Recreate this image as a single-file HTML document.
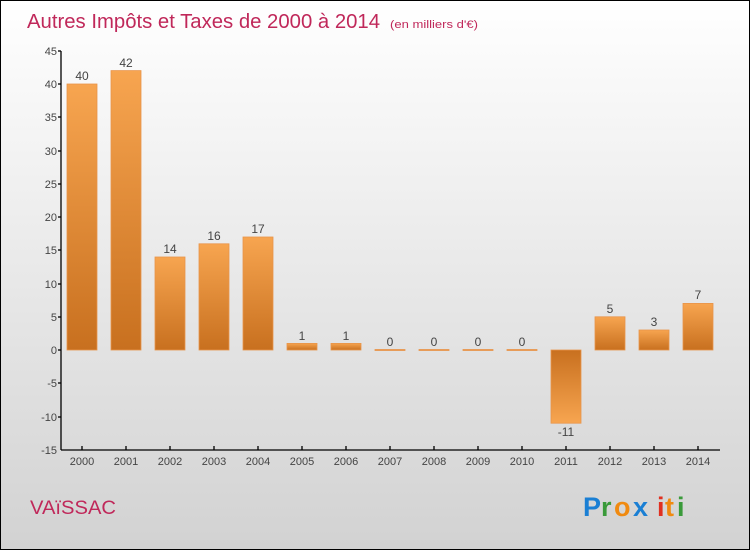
<!DOCTYPE html>
<html><head><meta charset="utf-8"><style>
html,body{margin:0;padding:0;}
body{width:750px;height:550px;overflow:hidden;font-family:"Liberation Sans",sans-serif;}
</style></head><body>
<svg width="750" height="550" xmlns="http://www.w3.org/2000/svg">
<defs>
<linearGradient id="bg" x1="0" y1="0" x2="0" y2="1"><stop offset="0" stop-color="#ffffff"/><stop offset="1" stop-color="#d2d2d2"/></linearGradient>
<linearGradient id="pos" x1="0" y1="0" x2="0" y2="1"><stop offset="0" stop-color="#f7a550"/><stop offset="1" stop-color="#c8701f"/></linearGradient>
<linearGradient id="neg" x1="0" y1="0" x2="0" y2="1"><stop offset="0" stop-color="#c8701f"/><stop offset="1" stop-color="#f7a550"/></linearGradient>
</defs>
<rect x="0.5" y="0.5" width="749" height="549" fill="url(#bg)" stroke="#000" stroke-width="1"/>
<text x="27" y="28" font-size="20" fill="#c0285a" textLength="353" lengthAdjust="spacingAndGlyphs">Autres Impôts et Taxes de 2000 à 2014</text>
<text x="390" y="28" font-size="11" fill="#c0285a" textLength="88" lengthAdjust="spacingAndGlyphs">(en milliers d'€)</text>
<g font-size="11" fill="#444" text-anchor="end">
<text x="57" y="55">45</text><text x="57" y="88">40</text><text x="57" y="121">35</text><text x="57" y="155">30</text><text x="57" y="188">25</text><text x="57" y="221">20</text><text x="57" y="254">15</text><text x="57" y="288">10</text><text x="57" y="321">5</text><text x="57" y="354">0</text><text x="57" y="387">-5</text><text x="57" y="421">-10</text><text x="57" y="454">-15</text>
</g>
<g stroke="#000" stroke-width="1.3">
<line x1="61" y1="51" x2="61" y2="450"/>
<line x1="61" y1="450" x2="720" y2="450"/>
<line x1="58" y1="51" x2="61" y2="51"/><line x1="58" y1="84" x2="61" y2="84"/><line x1="58" y1="117" x2="61" y2="117"/><line x1="58" y1="151" x2="61" y2="151"/><line x1="58" y1="184" x2="61" y2="184"/><line x1="58" y1="217" x2="61" y2="217"/><line x1="58" y1="250" x2="61" y2="250"/><line x1="58" y1="284" x2="61" y2="284"/><line x1="58" y1="317" x2="61" y2="317"/><line x1="58" y1="350" x2="61" y2="350"/><line x1="58" y1="383" x2="61" y2="383"/><line x1="58" y1="417" x2="61" y2="417"/>
</g>
<g stroke="#e8944a" stroke-width="0.8">
<rect x="67" y="84" width="30" height="266" fill="url(#pos)"/>
<rect x="111" y="70.6" width="30" height="279.4" fill="url(#pos)"/>
<rect x="155" y="257" width="30" height="93" fill="url(#pos)"/>
<rect x="199" y="243.8" width="30" height="106.2" fill="url(#pos)"/>
<rect x="243" y="237" width="30" height="113" fill="url(#pos)"/>
<rect x="287" y="343.4" width="30" height="6.6" fill="url(#pos)"/>
<rect x="331" y="343.4" width="30" height="6.6" fill="url(#pos)"/>
<rect x="375" y="349.5" width="30" height="1" fill="#e8944a"/>
<rect x="419" y="349.5" width="30" height="1" fill="#e8944a"/>
<rect x="463" y="349.5" width="30" height="1" fill="#e8944a"/>
<rect x="507" y="349.5" width="30" height="1" fill="#e8944a"/>
<rect x="551" y="350" width="30" height="73.2" fill="url(#neg)"/>
<rect x="595" y="316.8" width="30" height="33.2" fill="url(#pos)"/>
<rect x="639" y="330" width="30" height="20" fill="url(#pos)"/>
<rect x="683" y="303.4" width="30" height="46.6" fill="url(#pos)"/>
</g>
<g font-size="12" fill="#444" text-anchor="middle">
<text x="82" y="80">40</text><text x="126" y="67">42</text><text x="170" y="253">14</text><text x="214" y="240">16</text><text x="258" y="233">17</text><text x="302" y="340">1</text><text x="346" y="340">1</text><text x="390" y="346">0</text><text x="434" y="346">0</text><text x="478" y="346">0</text><text x="522" y="346">0</text><text x="566" y="436">-11</text><text x="610" y="313">5</text><text x="654" y="326">3</text><text x="698" y="299">7</text>
</g>
<g stroke="#000" stroke-width="1.3">
<line x1="82" y1="446" x2="82" y2="450"/><line x1="126" y1="446" x2="126" y2="450"/><line x1="170" y1="446" x2="170" y2="450"/><line x1="214" y1="446" x2="214" y2="450"/><line x1="258" y1="446" x2="258" y2="450"/><line x1="302" y1="446" x2="302" y2="450"/><line x1="346" y1="446" x2="346" y2="450"/><line x1="390" y1="446" x2="390" y2="450"/><line x1="434" y1="446" x2="434" y2="450"/><line x1="478" y1="446" x2="478" y2="450"/><line x1="522" y1="446" x2="522" y2="450"/><line x1="566" y1="446" x2="566" y2="450"/><line x1="610" y1="446" x2="610" y2="450"/><line x1="654" y1="446" x2="654" y2="450"/><line x1="698" y1="446" x2="698" y2="450"/>
</g>
<g font-size="11" fill="#444" text-anchor="middle">
<text x="82" y="465">2000</text><text x="126" y="465">2001</text><text x="170" y="465">2002</text><text x="214" y="465">2003</text><text x="258" y="465">2004</text><text x="302" y="465">2005</text><text x="346" y="465">2006</text><text x="390" y="465">2007</text><text x="434" y="465">2008</text><text x="478" y="465">2009</text><text x="522" y="465">2010</text><text x="566" y="465">2011</text><text x="610" y="465">2012</text><text x="654" y="465">2013</text><text x="698" y="465">2014</text>
</g>
<text x="30" y="514" font-size="19" fill="#c0285a" textLength="86" lengthAdjust="spacingAndGlyphs">VAïSSAC</text>
<g font-size="27" font-weight="bold">
<text x="583" y="516" fill="#1a7fd4">P</text><text x="601" y="516" fill="#3a9a3a">r</text><text x="614" y="516" fill="#f08a10">o</text><text x="633" y="516" fill="#1a7fd4">x</text><text x="657" y="516" fill="#e03020">i</text><text x="665" y="516" fill="#f08a10">t</text><text x="677" y="516" fill="#3a9a3a">i</text>
</g>
</svg>
</body></html>
